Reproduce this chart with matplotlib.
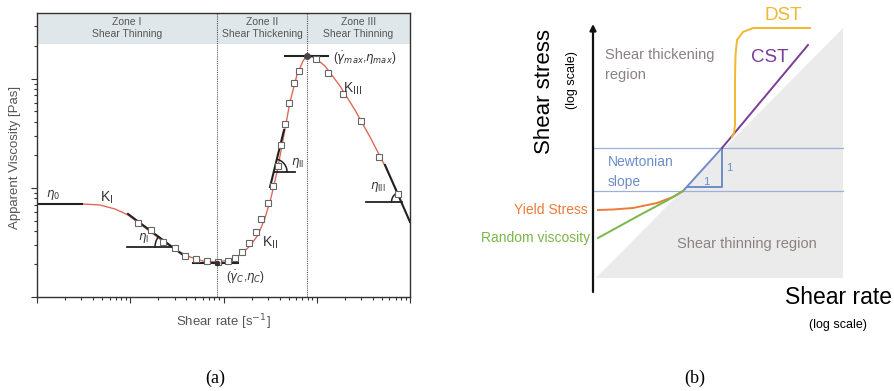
import numpy as np
import matplotlib
matplotlib.use("Agg")
import matplotlib.pyplot as plt
from matplotlib.patches import Rectangle, Polygon

plt.rcParams['font.family'] = ['Liberation Sans', 'DejaVu Sans']
plt.rcParams['hatch.color'] = '#f3f6f7'
plt.rcParams['hatch.linewidth'] = 0.6

# ---------------- panel (a): data in decades (log10 units) ----------------
zone_names = ["Zone I", "Zone II", "Zone III"]
zone_kinds = ["Shear Thinning", "Shear Thickening", "Shear Thinning"]

# measured points (log10 shear rate, log10 viscosity)
sq_x = [-0.917, -0.777, -0.649, -0.520, -0.413, -0.295, -0.177, -0.059, 0.048, 0.123,
        0.198, 0.273, 0.349, 0.402, 0.477, 0.531, 0.584, 0.617, 0.660, 0.702,
        0.756, 0.810, 0.992, 1.121, 1.282, 1.475, 1.668, 1.871]
sq_y = [0.678, 0.614, 0.504, 0.449, 0.375, 0.348, 0.330, 0.321, 0.330, 0.357,
        0.412, 0.495, 0.595, 0.714, 0.861, 1.016, 1.200, 1.392, 1.584, 1.777,
        1.960, 2.070, 2.179, 2.051, 1.859, 1.612, 1.282, 0.943]

# fitted model curve
fit_x = [-1.517, -1.324, -1.164, -1.024, -0.895, -0.767, -0.627, -0.488, -0.359, -0.220,
         -0.070, 0.070, 0.177, 0.284, 0.370, 0.445, 0.509, 0.574, 0.638, 0.713,
         0.788, 0.853, 0.895, 0.981, 1.088, 1.249, 1.410, 1.571, 1.732, 1.893]
fit_y = [0.852, 0.842, 0.806, 0.751, 0.668, 0.586, 0.495, 0.421, 0.366, 0.330,
         0.321, 0.339, 0.385, 0.467, 0.568, 0.723, 0.907, 1.145, 1.438, 1.786,
         2.033, 2.161, 2.207, 2.189, 2.115, 1.932, 1.712, 1.465, 1.200, 0.907]

eta0 = 0.852
gc, etac = -0.070, 0.311          # critical point
gmax, etamax = 0.895, 2.207       # maximum
tan1 = ([-1.024, -0.391], [0.760, 0.357])
tan2 = ([0.499, 0.649], [1.007, 1.529])
tan3 = ([1.732, 2.000], [1.209, 0.687])

PXX, PXY = 93.25, 109.2   # pixels per decade in x and y

fig = plt.figure(figsize=(8.94, 3.91), dpi=100)
W, H = 894, 391

ax = fig.add_axes([37 / W, 1 - 297 / H, 373 / W, 284 / H])
ax.set_xlim(-2, 2)
ax.set_ylim(0, 2.6)

# log-style ticks
dec = np.log10(np.arange(2, 10))
ax.set_xticks(np.arange(-2, 3))
ax.set_xticks([d + m for d in range(-2, 2) for m in dec], minor=True)
ax.set_yticks([0, 1, 2])
ax.set_yticks([d + m for d in range(0, 3) for m in dec if d + m < 2.6], minor=True)
ax.tick_params(which='both', direction='out', labelbottom=False, labelleft=False,
               color='#333', width=0.8)
ax.tick_params(which='major', length=4)
ax.tick_params(which='minor', length=2.5)
for s in ax.spines.values():
    s.set_color('#333')
    s.set_linewidth(1.0)

# header band
ax.add_patch(Rectangle((-2, 2.326), 4, 0.274, facecolor='#dfe7ea', edgecolor='none',
                       hatch='////', lw=0, zorder=0))
ax.axhline(2.326, color='#cfd8dc', lw=0.5)
for xv in (gc, gmax):
    ax.axvline(xv, color='#555', lw=0.8, ls=(0, (1, 1)))
zc = [(-2 + gc) / 2, (gc + gmax) / 2, (gmax + 2) / 2]
for xc, zn, zk in zip(zc, zone_names, zone_kinds):
    ax.text(xc, 2.52, zn, ha='center', va='center', fontsize=7.5, color='#555')
    ax.text(xc, 2.405, zk, ha='center', va='center', fontsize=7.5, color='#555')

ax.plot(fit_x, fit_y, color='#e06a58', lw=1.0, zorder=2)
ax.plot(sq_x, sq_y, 's', ms=4.3, mfc='white', mec='#666', mew=0.8, zorder=3)

k = '#222'
ax.plot([-2, -1.517], [eta0, eta0], color=k, lw=1.5)
ax.plot(*tan1, color=k, lw=1.5)
ax.plot([-1.035, -0.552], [0.458, 0.458], color=k, lw=1.3)
ax.plot(*tan2, color=k, lw=1.5)
ax.plot([0.542, 0.767], [1.145, 1.145], color=k, lw=1.3)
ax.plot(*tan3, color=k, lw=1.5, clip_on=True)
ax.plot([1.528, 1.909], [0.870, 0.870], color=k, lw=1.3)
ax.plot([gc - 0.257, gc + 0.225], [etac, etac], color=k, lw=1.5)
ax.plot([gmax - 0.236, gmax + 0.225], [etamax, etamax], color=k, lw=1.5)
ax.plot([gc], [etac], 'o', ms=3, color='#333', zorder=4)
ax.plot([gmax], [etamax], 'o', ms=4, color='#444', zorder=4)


def arc(cx, cy, r, a1, a2):
    t = np.radians(np.linspace(a1, a2, 30))
    ax.plot(cx + r * np.cos(t) / PXX, cy + r * np.sin(t) / PXY, color=k, lw=1.1)


arc(-0.552, 0.458, 17, 143, 180)
arc(0.542, 1.145, 13, 0, 76)
arc(1.909, 0.870, 10, 113, 180)

fs = 8.5
ax.text(-1.83, 0.93, r'$\eta_0$', fontsize=fs, color='#333', ha='center', va='center')
ax.text(-1.25, 0.91, r'K$_\mathrm{I}$', fontsize=fs + 1.5, color='#333', ha='center', va='center')
ax.text(-0.86, 0.54, r'$\eta_\mathrm{I}$', fontsize=fs, color='#333', ha='center', va='center')
ax.text(0.50, 0.50, r'K$_\mathrm{II}$', fontsize=fs + 1.5, color='#333', ha='center', va='center')
ax.text(0.72, 1.23, r'$\eta_\mathrm{II}$', fontsize=fs, color='#333', ha='left', va='center')
ax.text(1.38, 1.91, r'K$_\mathrm{III}$', fontsize=fs + 1.5, color='#333', ha='center', va='center')
ax.text(1.66, 1.01, r'$\eta_\mathrm{III}$', fontsize=fs, color='#333', ha='center', va='center')
ax.text(0.03, 0.18, r'($\dot{\gamma}_C$,$\eta_C$)', fontsize=fs, color='#333', ha='left', va='center')
ax.text(1.17, 2.19, r'($\dot{\gamma}_{max}$,$\eta_{max}$)', fontsize=fs, color='#333',
        ha='left', va='center')

fig.text(15 / W, 1 - 157 / H, 'Apparent Viscosity [Pas]', rotation=90, ha='center',
         va='center', fontsize=9.5, color='#555')
fig.text(223 / W, 1 - 322 / H, r'Shear rate [s$^{-1}$]', ha='center', va='center',
         fontsize=9.5, color='#555')
fig.text(215 / W, 1 - 378 / H, '(a)', ha='center', va='center', fontsize=13,
         family='Liberation Serif')
fig.text(695 / W, 1 - 378 / H, '(b)', ha='center', va='center', fontsize=13,
         family='Liberation Serif')

# ---------------- panel (b): schematic in arbitrary log units ----------------
thin_region = [(0.03, 0.02), (2.50, 2.52), (2.50, 0.02)]
newt_levels = [0.89, 1.32]
newt_x = [0.90, 1.29]
newt_y = [0.89, 1.32]
cst_x = [1.29, 2.15]
cst_y = [1.32, 2.35]
dst_x = [1.39, 1.41, 1.42, 1.42, 1.425, 1.44, 1.50, 1.60, 2.17]
dst_y = [1.43, 1.47, 1.55, 2.00, 2.25, 2.40, 2.48, 2.52, 2.52]
yield_x = [0.05, 0.20, 0.40, 0.64, 0.80, 0.90]
yield_y = [0.70, 0.705, 0.72, 0.77, 0.83, 0.89]
rand_x = [0.05, 0.45, 0.75, 0.90]
rand_y = [0.42, 0.64, 0.80, 0.89]

bx = fig.add_axes([450 / W, 0, 444 / W, 1])
bx.set_xlim((450 - 593) / 100, (894 - 593) / 100)
bx.set_ylim((280 - 391) / 100, 280 / 100)
bx.axis('off')

bx.add_patch(Polygon(thin_region, closed=True, facecolor='#ebebeb', edgecolor='none', zorder=0))
blue = '#6d8cc8'
for lv in newt_levels:
    bx.plot([0, 2.5], [lv, lv], color='#9db0d8', lw=0.9, zorder=1)
bx.plot(newt_x, newt_y, color=blue, lw=1.4, zorder=2)
bx.plot([0.94, 1.29, 1.29], [0.93, 0.93, 1.32], color=blue, lw=1.4, zorder=2)
bx.plot(cst_x, cst_y, color='#7b3c98', lw=1.4, zorder=2)
bx.plot(dst_x, dst_y, color='#f2b630', lw=1.4, zorder=2)
bx.plot(yield_x, yield_y, color='#ee7a3a', lw=1.4, zorder=2)
bx.plot(rand_x, rand_y, color='#7ab648', lw=1.4, zorder=2)

bx.annotate('', xy=(0, 2.56), xytext=(0, -0.12),
            arrowprops=dict(arrowstyle='-|>', lw=1.6, color='#111', mutation_scale=9,
                            shrinkA=0, shrinkB=0))
bx.annotate('', xy=(3.02, 0), xytext=(-0.13, 0),
            arrowprops=dict(arrowstyle='-|>', lw=1.6, color='#111', mutation_scale=9,
                            shrinkA=0, shrinkB=0))

grey = '#8a8282'
bx.text(1.90, 2.65, 'DST', color='#f2b630', fontsize=13.5, ha='center', va='center')
bx.text(1.77, 2.23, 'CST', color='#7b3c98', fontsize=13.5, ha='center', va='center')
bx.text(0.12, 2.25, 'Shear thickening', color=grey, fontsize=10.5, ha='left', va='center')
bx.text(0.12, 2.05, 'region', color=grey, fontsize=10.5, ha='left', va='center')
bx.text(0.15, 1.18, 'Newtonian', color=blue, fontsize=10, ha='left', va='center')
bx.text(0.15, 0.98, 'slope', color=blue, fontsize=10, ha='left', va='center')
bx.text(1.13, 0.98, '1', color=blue, fontsize=8, ha='center', va='center')
bx.text(1.36, 1.12, '1', color=blue, fontsize=8, ha='center', va='center')
bx.text(-0.05, 0.70, 'Yield Stress', color='#ee7a3a', fontsize=10, ha='right', va='center')
bx.text(-0.03, 0.42, 'Random viscosity', color='#7ab648', fontsize=10, ha='right', va='center')
bx.text(1.54, 0.36, 'Shear thinning region', color=grey, fontsize=10.5, ha='center', va='center')
bx.text(-0.48, 1.88, 'Shear stress', rotation=90, fontsize=16, ha='center', va='center')
bx.text(-0.21, 2.00, '(log scale)', rotation=90, fontsize=9, ha='center', va='center')
bx.text(1.92, -0.18, 'Shear rate', fontsize=16.5, ha='left', va='center', clip_on=False)
bx.text(2.45, -0.45, '(log scale)', fontsize=9, ha='center', va='center')

fig.savefig('out.png', dpi=100)
